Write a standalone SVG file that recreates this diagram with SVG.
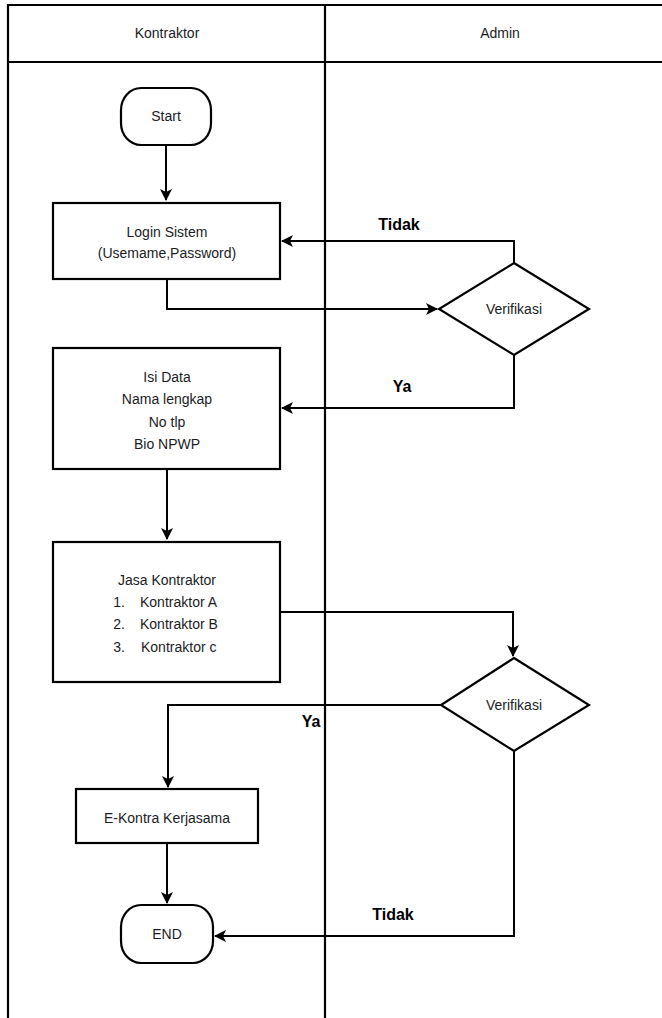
<svg xmlns="http://www.w3.org/2000/svg" width="662" height="1018" viewBox="0 0 662 1018">
  <style>
    .lane { fill: none; stroke: #000; stroke-width: 2.2; }
    .shape { fill: #fff; stroke: #000; stroke-width: 2.2; }
    .edge { fill: none; stroke: #000; stroke-width: 2; }
    .txt { font-family: "Liberation Sans", Arial, sans-serif; font-size: 14px; fill: #1c1c24; text-anchor: middle; }
    .lbl { font-family: "Liberation Sans", Arial, sans-serif; font-size: 16px; font-weight: bold; fill: #000; text-anchor: middle; }
  </style>
  <defs>
    <marker id="arrow" viewBox="0 0 12 12" refX="11" refY="6" markerWidth="12" markerHeight="12" markerUnits="userSpaceOnUse" orient="auto">
      <path d="M0,0 L12,6 L0,12 L3,6 Z" fill="#000"/>
    </marker>
  </defs>
  <rect width="662" height="1018" fill="#fff"/>

  <!-- swimlanes -->
  <g id="lanes">
    <path class="lane" d="M8,1018 V5 H662 M8,62 H662 M325,5 V1018"/>
    <text class="txt" x="167" y="38">Kontraktor</text>
    <text class="txt" x="500" y="38">Admin</text>
  </g>

  <!-- connectors -->
  <g id="connectors">
    <path class="edge" d="M166,145 V200" marker-end="url(#arrow)"/>
    <path class="edge" d="M514,263 V241 H282" marker-end="url(#arrow)"/>
    <path class="edge" d="M167,279 V309 H437" marker-end="url(#arrow)"/>
    <path class="edge" d="M514,355 V408 H282" marker-end="url(#arrow)"/>
    <path class="edge" d="M167,469 V539" marker-end="url(#arrow)"/>
    <path class="edge" d="M280,612 H513 V656" marker-end="url(#arrow)"/>
    <path class="edge" d="M441,705 H168 V787" marker-end="url(#arrow)"/>
    <path class="edge" d="M167,843 V903" marker-end="url(#arrow)"/>
    <path class="edge" d="M514,751 V936 H215" marker-end="url(#arrow)"/>
    <text class="lbl" x="399" y="230">Tidak</text>
    <text class="lbl" x="402" y="392">Ya</text>
    <text class="lbl" x="311" y="727">Ya</text>
    <text class="lbl" x="393" y="920">Tidak</text>
  </g>

  <g id="start">
    <rect class="shape" x="121" y="88" width="90" height="57" rx="20" ry="22"/>
    <text class="txt" x="166" y="121">Start</text>
  </g>

  <g id="login">
    <rect class="shape" x="53" y="203" width="227" height="76"/>
    <text class="txt" x="167" y="237">Login Sistem</text>
    <text class="txt" x="167" y="258">(Usemame,Password)</text>
  </g>

  <g id="verifikasi1">
    <polygon class="shape" points="514,263 589,309 514,355 439,309"/>
    <text class="txt" x="514" y="314">Verifikasi</text>
  </g>

  <g id="isi-data">
    <rect class="shape" x="53" y="348" width="227" height="121"/>
    <text class="txt" x="167" y="382">Isi Data</text>
    <text class="txt" x="167" y="404">Nama lengkap</text>
    <text class="txt" x="167" y="427">No tlp</text>
    <text class="txt" x="167" y="449">Bio NPWP</text>
  </g>

  <g id="jasa-kontraktor">
    <rect class="shape" x="53" y="542" width="227" height="140"/>
    <text class="txt" x="167" y="585">Jasa Kontraktor</text>
    <text class="txt" x="119" y="607">1.</text>
    <text class="txt" x="119" y="629">2.</text>
    <text class="txt" x="119" y="652">3.</text>
    <text class="txt" style="text-anchor:start" x="140" y="607">Kontraktor A</text>
    <text class="txt" style="text-anchor:start" x="140" y="629">Kontraktor B</text>
    <text class="txt" style="text-anchor:start" x="141" y="652">Kontraktor c</text>
  </g>

  <g id="verifikasi2">
    <polygon class="shape" points="514,658 589,705 514,751 441,705"/>
    <text class="txt" x="514" y="710">Verifikasi</text>
  </g>

  <g id="e-kontra">
    <rect class="shape" x="76" y="789" width="182" height="54"/>
    <text class="txt" x="167" y="823">E-Kontra Kerjasama</text>
  </g>

  <g id="end">
    <rect class="shape" x="121" y="905" width="92" height="58" rx="20" ry="22"/>
    <text class="txt" x="167" y="939">END</text>
  </g>
</svg>
